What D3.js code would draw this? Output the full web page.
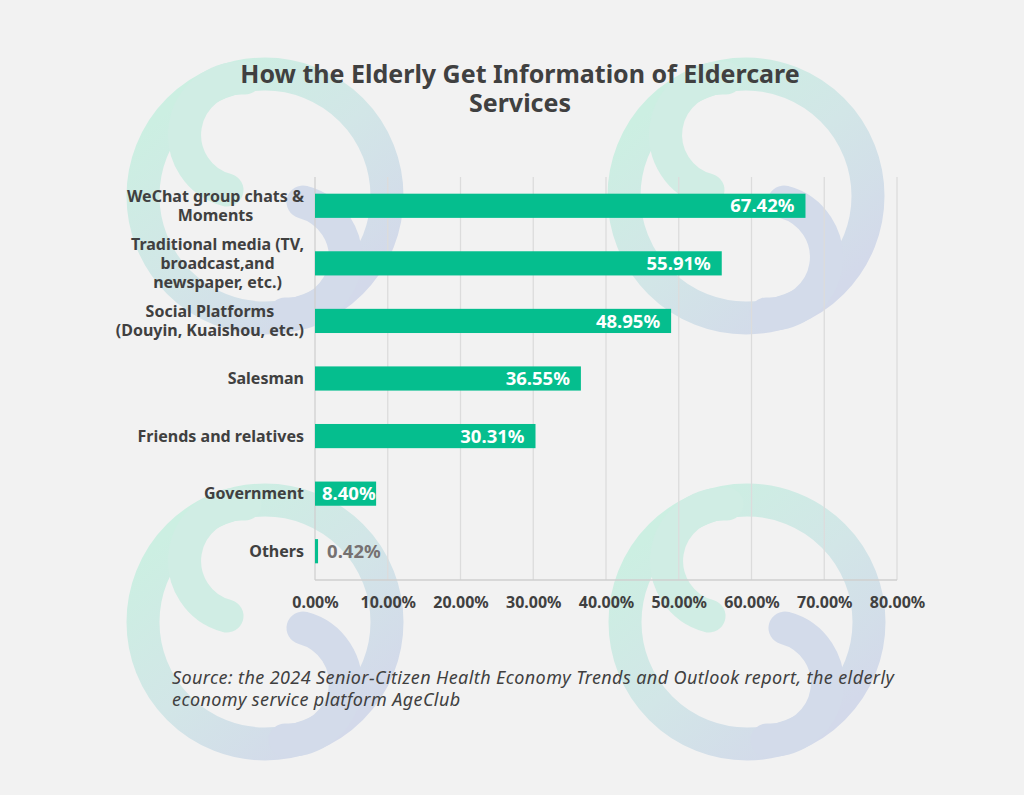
<!DOCTYPE html>
<html>
<head>
<meta charset="utf-8">
<script src="https://cdn.jsdelivr.net/npm/d3@7"></script>
<style>
  body { margin: 0; background: #f2f2f2; }
  svg { display: block; }
</style>
</head>
<body>
<div id="chart"></div>
<script>
// data
var categories = [
    ["WeChat group chats &", "Moments"],
    ["Traditional media (TV,", "broadcast,and", "newspaper, etc.)"],
    ["Social Platforms", "(Douyin, Kuaishou, etc.)"],
    ["Salesman"],
    ["Friends and relatives"],
    ["Government"],
    ["Others"]
];
var values = [67.42, 55.91, 48.95, 36.55, 30.31, 8.40, 0.42];
var tickValues = [0, 10, 20, 30, 40, 50, 60, 70, 80];
var titleLines = ["How the Elderly Get Information of Eldercare", "Services"];
var sourceLines = ["Source: the 2024 Senior-Citizen Health Economy Trends and Outlook report, the elderly",
                   "economy service platform AgeClub"];
var logoCenters = [[265, 196], [746, 196], [265, 622], [747, 622]];

var WIDTH = 1024, HEIGHT = 795;
var margin = { left: 315, right: 127, top: 177, bottom: 215 };
var width = WIDTH - margin.left - margin.right;
var height = HEIGHT - margin.top - margin.bottom;
var FONT = "'Noto Sans', 'Open Sans', sans-serif";
var TEXT = "#404040";
var GREEN = "#05be8e";

var svg = d3.select("#chart").append("svg")
    .attr("width", WIDTH)
    .attr("height", HEIGHT);

svg.append("rect").attr("width", WIDTH).attr("height", HEIGHT).attr("fill", "#f2f2f2");

// watermark logos
var defs = svg.append("defs");
var grad = defs.append("linearGradient")
    .attr("id", "logoGrad")
    .attr("x1", "15%").attr("y1", "10%").attr("x2", "85%").attr("y2", "90%");
grad.append("stop").attr("offset", "0%").attr("stop-color", "#ccefe2");
grad.append("stop").attr("offset", "50%").attr("stop-color", "#d2e6e7");
grad.append("stop").attr("offset", "100%").attr("stop-color", "#d3d9ea");

var logos = svg.append("g").attr("class", "logos");
logoCenters.forEach(function(c) {
    var g = logos.append("g").attr("transform", "translate(" + c[0] + "," + c[1] + ")");
    // outer ring
    g.append("circle")
        .attr("r", 122)
        .attr("fill", "none")
        .attr("stroke", "url(#logoGrad)")
        .attr("stroke-width", 33);
    // green inner hook, joined to the ring at the top
    g.append("path")
        .attr("d", "M -20,-118 A 57 57 0 0 0 -38,-6")
        .attr("fill", "none")
        .attr("stroke", "#d0ede4")
        .attr("stroke-width", 33)
        .attr("stroke-linecap", "round");
    // blue inner hook, joined to the ring at the bottom
    g.append("path")
        .attr("d", "M 20,118 A 57 57 0 0 0 38,6")
        .attr("fill", "none")
        .attr("stroke", "#d3dbea")
        .attr("stroke-width", 33)
        .attr("stroke-linecap", "round");
});

// title, one text with a tspan per line
var title = svg.append("text")
    .attr("class", "title")
    .attr("text-anchor", "middle")
    .style("font", "bold 25px " + FONT)
    .attr("fill", TEXT);
title.selectAll("tspan")
    .data(titleLines)
    .enter().append("tspan")
    .attr("x", 520)
    .attr("y", function(d, i) { return 83 + i * 29; })
    .text(function(d) { return d; });

var chart = svg.append("g")
    .attr("transform", "translate(" + margin.left + "," + margin.top + ")");

var xScale = d3.scaleLinear().domain([0, 80]).range([0, width]);
var yScale = d3.scaleBand()
    .domain(d3.range(categories.length))
    .range([0, height])
    .paddingInner(0.58)
    .paddingOuter(0.29);

// gridlines
chart.append("g").selectAll("line")
    .data(tickValues)
    .enter().append("line")
    .attr("x1", function(d) { return xScale(d); })
    .attr("x2", function(d) { return xScale(d); })
    .attr("y1", 0)
    .attr("y2", height)
    .attr("stroke", function(d) { return d === 0 ? "#cfcfcf" : "#dcdcdc"; })
    .attr("stroke-width", 1.3);

chart.append("line")
    .attr("x1", 0).attr("x2", width)
    .attr("y1", height).attr("y2", height)
    .attr("stroke", "#cfcfcf")
    .attr("stroke-width", 1.3);

// x axis
var xAxis = d3.axisBottom(xScale)
    .tickValues(tickValues)
    .tickSize(0)
    .tickPadding(17)
    .tickFormat(function(d) { return d3.format(".2f")(d) + "%"; });

chart.append("g")
    .attr("class", "x-axis")
    .attr("transform", "translate(0," + height + ")")
    .call(xAxis)
    .call(function(g) { g.select(".domain").remove(); })
    .selectAll("text")
    .style("font", "bold 16px " + FONT)
    .attr("fill", TEXT);

// bars
chart.selectAll(".bar")
    .data(values)
    .enter().append("rect")
    .attr("class", "bar")
    .attr("x", 0)
    .attr("y", function(d, i) { return yScale(i); })
    .attr("width", function(d) { return xScale(d); })
    .attr("height", yScale.bandwidth())
    .attr("fill", GREEN);

// value labels: inside end, or just past the bar when it is too thin
chart.selectAll(".val")
    .data(values)
    .enter().append("text")
    .attr("class", "val")
    .attr("y", function(d, i) { return yScale(i) + yScale.bandwidth() / 2; })
    .attr("dy", ".36em")
    .attr("text-anchor", function(d) { return d < 5 ? "start" : "end"; })
    .style("font", "bold 18.5px " + FONT)
    .attr("fill", function(d) { return d < 5 ? "#767171" : "#ffffff"; })
    .text(function(d) { return d3.format(".2f")(d) + "%"; })
    .attr("x", function(d) {
        if (d < 5) return xScale(d) + 9;
        return Math.max(xScale(d) - 11, this.getComputedTextLength() + 7);
    });

// category labels: one text per category, lines centred in a right-aligned block
var lineH = 19;
categories.forEach(function(lines, i) {
    var cy = yScale(i) + yScale.bandwidth() / 2;
    var label = chart.append("text")
        .attr("class", "cat")
        .attr("text-anchor", "middle")
        .style("font", "bold 16px " + FONT)
        .attr("fill", TEXT);
    var spans = label.selectAll("tspan")
        .data(lines)
        .enter().append("tspan")
        .attr("y", function(d, j) { return cy + (j - (lines.length - 1) / 2) * lineH; })
        .attr("dy", ".35em")
        .text(function(d) { return d; });
    var maxW = 0;
    spans.each(function() { maxW = Math.max(maxW, this.getComputedTextLength()); });
    spans.attr("x", -11 - maxW / 2);
});

// source note
var source = svg.append("text")
    .attr("class", "source")
    .style("font", "italic 18px " + FONT)
    .style("letter-spacing", "0.4px")
    .attr("fill", TEXT);
source.selectAll("tspan")
    .data(sourceLines)
    .enter().append("tspan")
    .attr("x", 172)
    .attr("y", function(d, i) { return 684 + i * 22; })
    .text(function(d) { return d; });
</script>
</body>
</html>
